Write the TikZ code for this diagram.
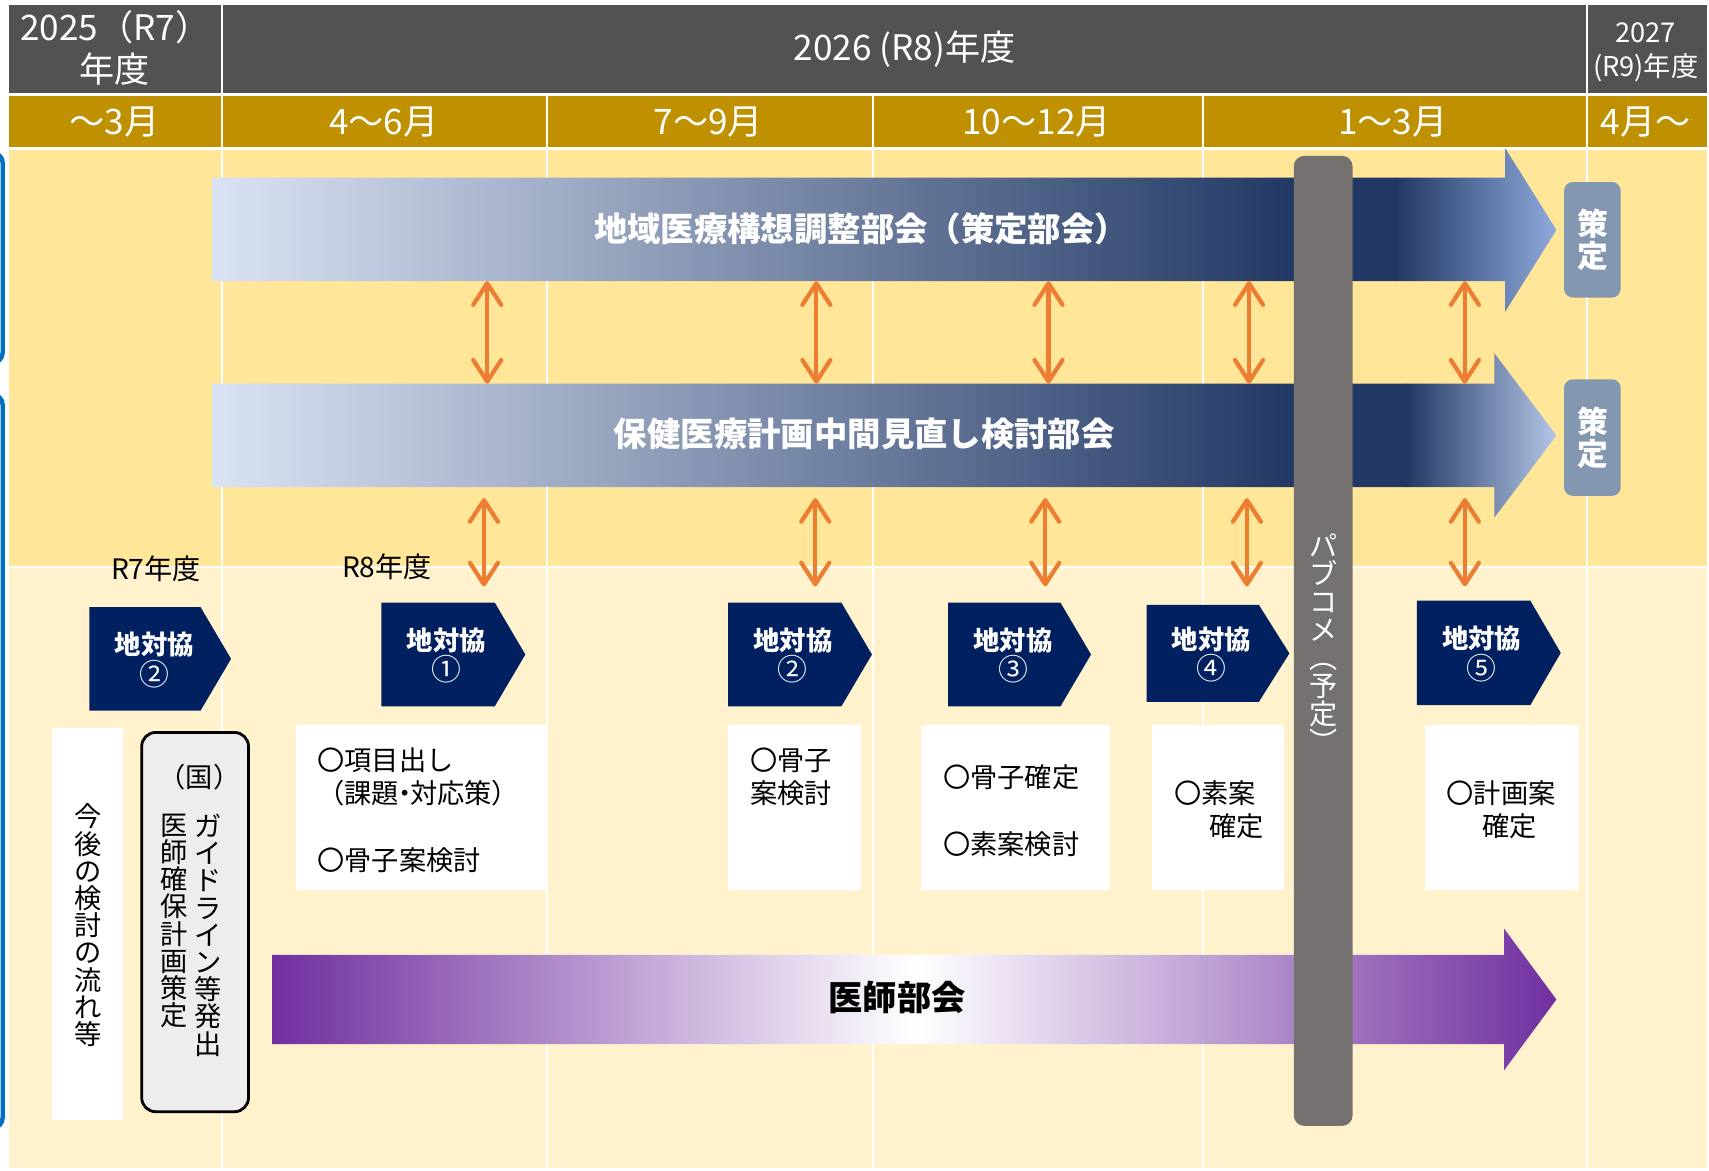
\documentclass[tikz,border=0pt]{standalone}
\usepackage{fontspec}
\setmainfont{Noto Sans CJK JP}
\usetikzlibrary{arrows.meta}
\definecolor{hdark}{HTML}{525252}
\definecolor{hgold}{HTML}{BF9000}
\definecolor{bandA}{HTML}{FFE699}
\definecolor{bandB}{HTML}{FFF2CC}
\definecolor{navy}{HTML}{002060}
\definecolor{orng}{HTML}{ED7D31}
\definecolor{pbar}{HTML}{767171}
\definecolor{sakutei}{HTML}{8497B0}
\definecolor{purp}{HTML}{7030A0}
\definecolor{blA}{HTML}{DAE3F3}
\definecolor{blB}{HTML}{223864}
\definecolor{blC}{HTML}{8FAADC}
\definecolor{blD}{HTML}{B4C7E7}
\definecolor{guidefill}{HTML}{EDEDED}
\definecolor{lblue}{HTML}{0070C0}
\newcommand\jfs[2]{\fontsize{#1pt}{#2pt}\selectfont}
\newcommand\PX{0.0218cm}
\newcommand\chev[6]{%
  \fill[navy] (#2,#3) -- ({#5-28},#3) -- (#5,{(#3+#4)/2}) -- ({#5-28},#4) -- (#2,#4) -- cycle;
  \node[chevtxt] (#1) at ({#2+59.5},{(#3+#4)/2+1}) {地対協\\{\mdseries\jfs{17}{17}#6}};
}
\newcommand\wb[5]{\node[wbox,minimum width={(#4-#2)*\PX},minimum height={(#5-#3)*\PX}] (#1) at ({(#2+#4)/2},{(#3+#5)/2}) {};}
\begin{document}
\begin{tikzpicture}[x=0.0218cm,y=-0.0218cm,
  hdr/.style={text=white,inner sep=0pt},
  arrtxt/.style={text=white,font=\bfseries\jfs{19}{23},inner sep=0pt},
  chevtxt/.style={text=white,font=\bfseries\jfs{15}{17.3},align=center,inner sep=0pt},
  desc/.style={text=black,font=\jfs{15.5}{19},align=left,inner sep=0pt,anchor=west},
  wbox/.style={fill=white,inner sep=0pt},
  oarr/.style={draw=orng,line width=2.4pt,{Straight Barb[length=4.3mm,width=5.6mm,round]}-{Straight Barb[length=4.3mm,width=5.6mm,round]}},
  gridln/.style={draw=white,line width=1.2pt},
  sakubox/.style={fill=sakutei,rounded corners=5pt,minimum width={52*\PX},minimum height={106*\PX},inner sep=0pt,text=white,align=center,font=\bfseries\jfs{17.5}{18.5}},
  vstack/.style={align=center,inner sep=0pt,font=\jfs{15.5}{15.5}}
]
\useasboundingbox (0,0) rectangle (1568,1074);
% backgrounds
\fill[hdark] (8,5) rectangle (1566,85);
\fill[hgold] (8,88) rectangle (1566,135);
\fill[bandA] (8,138) rectangle (1566,519);
\fill[bandB] (8,521) rectangle (1566,1072);
\foreach \x in {204,1456} \draw[gridln] (\x,5) -- (\x,1072);
\foreach \x in {502,801,1104} \draw[gridln] (\x,88) -- (\x,1072);
% left blue edge
\draw[lblue,line width=2.5pt,rounded corners=6pt] (-20,140) -- (2.5,140) -- (2.5,333) -- (-20,333);
\draw[lblue,line width=2.5pt,rounded corners=6pt] (-20,362) -- (2.5,362) -- (2.5,1035) -- (-20,1035);
% header texts
\node[hdr,font=\jfs{20}{22}] (y25a) at (106,25) {2025（R7）};
\node[hdr,font=\jfs{20}{22}] (y25b) at (105,63) {年度};
\node[hdr,font=\jfs{20}{22}] (y26) at (830,45) {2026 (R8)年度};
\node[hdr,font=\jfs{15.5}{18}] (y27a) at (1510,30) {2027};
\node[hdr,font=\jfs{15.5}{18}] (y27b) at (1510,62) {(R9)年度};
\node[hdr,font=\jfs{20}{22}] (m0) at (105,112) {～3月};
\node[hdr,font=\jfs{20}{22}] (m1) at (352,112) {4～6月};
\node[hdr,font=\jfs{20}{22}] (m2) at (650,112) {7～9月};
\node[hdr,font=\jfs{20}{22}] (m3) at (951,112) {10～12月};
\node[hdr,font=\jfs{20}{22}] (m4) at (1278,112) {1～3月};
\node[hdr,font=\jfs{20}{22}] (m5) at (1510,112) {4月～};
% blue arrow 1
\begin{scope}
  \clip (195,163) -- (1381,163) -- (1381,136) -- (1428,211) -- (1381,286) -- (1381,258) -- (195,258) -- cycle;
  \shade[left color=blA,right color=blB] (195,130) rectangle (1190,290);
  \fill[blB] (1189,130) rectangle (1281,290);
  \shade[left color=blB,right color=blC] (1280,130) rectangle (1429,290);
\end{scope}
% blue arrow 2
\begin{scope}
  \clip (195,352) -- (1371,352) -- (1371,324) -- (1428,399.5) -- (1371,475) -- (1371,447) -- (195,447) -- cycle;
  \shade[left color=blA,right color=blB] (195,320) rectangle (1190,480);
  \fill[blB] (1189,320) rectangle (1291,480);
  \shade[left color=blB,right color=blD] (1290,320) rectangle (1429,480);
\end{scope}
\node[arrtxt] (bu1) at (790,210) {地域医療構想調整部会（策定部会）};
\node[arrtxt] (bu2) at (793,398) {保健医療計画中間見直し検討部会};
% sakutei boxes
\node[sakubox] (s1) at (1461,220) {策\\定};
\node[sakubox,minimum height={107*\PX}] (s2) at (1461,401.5) {策\\定};
% orange arrows
\coordinate (A1S) at (0,258);
\coordinate (A2N) at (0,352);
\coordinate (A2S) at (0,457);
\coordinate (CHN) at (0,538);
\foreach \i/\xa/\xb in {1/447/444,2/749/748,3/962/959,4/1146/1144,5/1344/1344}{
  \coordinate (ou\i) at (\xa,0);
  \coordinate (ol\i) at (\xb,0);
  \draw[oarr] (A1S -| ou\i) -- (A2N -| ou\i);
  \draw[oarr] (A2S -| ol\i) -- (CHN -| ol\i);
}
% labels
\node[font=\jfs{16}{19},inner sep=0pt] (r7) at (143,522) {R7年度};
\node[font=\jfs{16}{19},inner sep=0pt] (r8) at (355,520) {R8年度};
% chevrons
\chev{k0}{82}{557}{652}{212}{②}
\chev{k1}{350}{553}{648}{482}{①}
\chev{k2}{668}{553}{648}{800}{②}
\chev{k3}{870}{553}{648}{1001}{③}
\chev{k4}{1052}{555}{644}{1183}{④}
\chev{k5}{1300}{551}{647}{1432}{⑤}
% description boxes
\wb{d1}{272}{665}{502}{817}
\wb{d2}{668}{665}{790}{817}
\wb{d3}{845}{665}{1018}{817}
\wb{d4}{1057}{665}{1178}{817}
\wb{d5}{1307}{665}{1449}{817}
\wb{flow}{48}{668}{113}{1028}
\node[desc] (t1) at (291,743.5) {〇項目出し\\（課題\kern-0.3em・\kern-0.3em対応策）\\[19pt]〇骨子案検討};
\node[desc] (t2) at (688,712.5) {〇骨子\\案検討};
\node[desc] (t3) at (865,743.5) {〇骨子確定\\[19pt]〇素案検討};
\node[desc] (t4) at (1077,743) {〇素案\\\hspace*{1.3em}確定};
\node[desc] (t5) at (1327,743) {〇計画案\\\hspace*{1.3em}確定};
\node[vstack] (flowt) at (81,849) {今\\後\\の\\検\\討\\の\\流\\れ\\等};
% guide box
\node[fill=guidefill,draw=black,line width=1.6pt,rounded corners=8pt,minimum width={98*\PX},minimum height={348*\PX},inner sep=0pt] (guide) at (179,846) {};
\node[font=\jfs{15.5}{15.5},inner sep=0pt] (kuni) at (183,713) {（国）};
\node[vstack] (g1) at (191,858) {ガ\\イ\\ド\\ラ\\イ\\ン\\等\\発\\出};
\node[vstack] (g2) at (160,845) {医\\師\\確\\保\\計\\画\\策\\定};
% purple arrow
\begin{scope}
  \clip (250,876) -- (1380,876) -- (1380,852) -- (1428,917) -- (1380,982) -- (1380,958) -- (250,958) -- cycle;
  \shade[left color=purp,right color=white] (250,845) rectangle (841,990);
  \shade[left color=white,right color=purp] (840,845) rectangle (1429,990);
\end{scope}
\node[font=\bfseries\jfs{19.5}{23},inner sep=0pt] (ishi) at (823,915) {医師部会};
% public comment bar
\node[fill=pbar,rounded corners=6pt,minimum width={54*\PX},minimum height={890*\PX},inner sep=0pt] (pub) at (1214,588) {};
\node[align=center,inner sep=0pt,text=white,font=\jfs{16}{16}] (pubt) at (1214,590) {パ\\ブ\\コ\\メ\\︵\\予\\定\\︶};
\end{tikzpicture}
\end{document}
